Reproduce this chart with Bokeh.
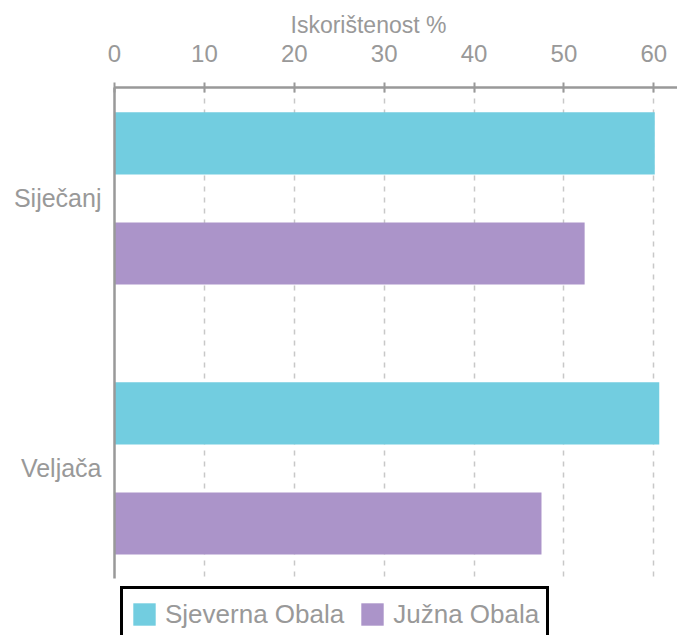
from bokeh.plotting import figure
from bokeh.layouts import column
from bokeh.models import Range1d, FixedTicker, Legend, LegendItem, ColumnDataSource
from bokeh.transform import dodge
from bokeh.embed import file_html
from bokeh.resources import INLINE

categories = ["Siječanj", "Veljača"]
sjeverna_obala = [60.1, 60.6]
juzna_obala = [52.3, 47.5]
x_ticks = [0, 10, 20, 30, 40, 50, 60]
series_names = ["Sjeverna Obala", "Južna Obala"]

CYAN = "#72CDE0"
PURPLE = "#AB94C9"
GRAY = "#999999"
FONT = "Liberation Sans"

pos = list(range(len(categories)))
source = ColumnDataSource(dict(pos=pos, sjeverna=sjeverna_obala, juzna=juzna_obala))

p = figure(width=677, height=584,
           x_range=Range1d(0, 62.63), y_range=Range1d(len(categories) - 1 + 0.4075, -0.411),
           x_axis_location="above", output_backend="svg", toolbar_location=None,
           min_border_left=114, min_border_right=0, min_border_top=87, min_border_bottom=6)

r1 = p.hbar(y=dodge("pos", -0.204), left=0, right="sjeverna", height=0.23,
            fill_color=CYAN, line_color=None, source=source)
r2 = p.hbar(y=dodge("pos", 0.204), left=0, right="juzna", height=0.23,
            fill_color=PURPLE, line_color=None, source=source)

p.outline_line_color = None

# x axis (top)
xa = p.xaxis[0]
xa.ticker = FixedTicker(ticks=x_ticks)
xa.axis_line_color = GRAY
xa.axis_line_width = 2.5
xa.major_tick_line_color = GRAY
xa.major_tick_line_width = 2
xa.major_tick_in = 5
xa.major_tick_out = 5
xa.minor_tick_line_color = None
xa.major_label_text_font = FONT
xa.major_label_text_font_size = "24px"
xa.major_label_text_color = GRAY
xa.major_label_standoff = 21

# y axis
ya = p.yaxis[0]
ya.ticker = FixedTicker(ticks=pos)
ya.major_label_overrides = {i: c for i, c in enumerate(categories)}
ya.axis_line_color = GRAY
ya.axis_line_width = 2.5
ya.major_tick_line_color = None
ya.minor_tick_line_color = None
ya.major_label_text_font = FONT
ya.major_label_text_font_size = "25px"
ya.major_label_text_color = GRAY
ya.major_label_standoff = 7

p.xgrid.grid_line_color = "#C8C8C8"
p.xgrid.grid_line_dash = "5 6"
p.xgrid.grid_line_width = 1.5
p.xgrid.ticker = FixedTicker(ticks=x_ticks)
p.ygrid.grid_line_color = None

p.title.text = "Iskorištenost %"
p.title.align = "left"
p.title.offset = 176
p.title.text_font = FONT
p.title.text_font_style = "normal"
p.title.text_font_size = "23px"
p.title.text_color = GRAY
p.title.standoff = 7

# legend strip below the chart (its glyph renderers lie outside its visible range)
lg = figure(width=677, height=51, x_range=Range1d(0, 1), y_range=Range1d(100, 101),
            x_axis_location=None, y_axis_location=None,
            output_backend="svg", toolbar_location=None,
            min_border_left=114, min_border_right=0, min_border_top=0, min_border_bottom=0)
lg.outline_line_color = None
lg.grid.visible = False
k1 = lg.hbar(y="pos", left=0, right="sjeverna", height=0.5, fill_color=CYAN, line_color=None, source=source)
k2 = lg.hbar(y="pos", left=0, right="juzna", height=0.5, fill_color=PURPLE, line_color=None, source=source)

legend = Legend(items=[LegendItem(label=series_names[0], renderers=[k1]),
                       LegendItem(label=series_names[1], renderers=[k2])],
                orientation="horizontal", location=(6, -7))
legend.margin = 0
legend.padding = 7
legend.spacing = 14
legend.glyph_width = 28
legend.glyph_height = 28
legend.label_height = 36
legend.label_standoff = 7
legend.label_text_font = FONT
legend.label_text_font_size = "26px"
legend.label_text_color = GRAY
legend.border_line_color = "black"
legend.border_line_alpha = 1.0
legend.border_line_width = 3
legend.background_fill_color = "white"
legend.background_fill_alpha = 1
lg.add_layout(legend, "center")

layout = column(p, lg, spacing=0)
open("out.html", "w").write(file_html(layout, INLINE))
